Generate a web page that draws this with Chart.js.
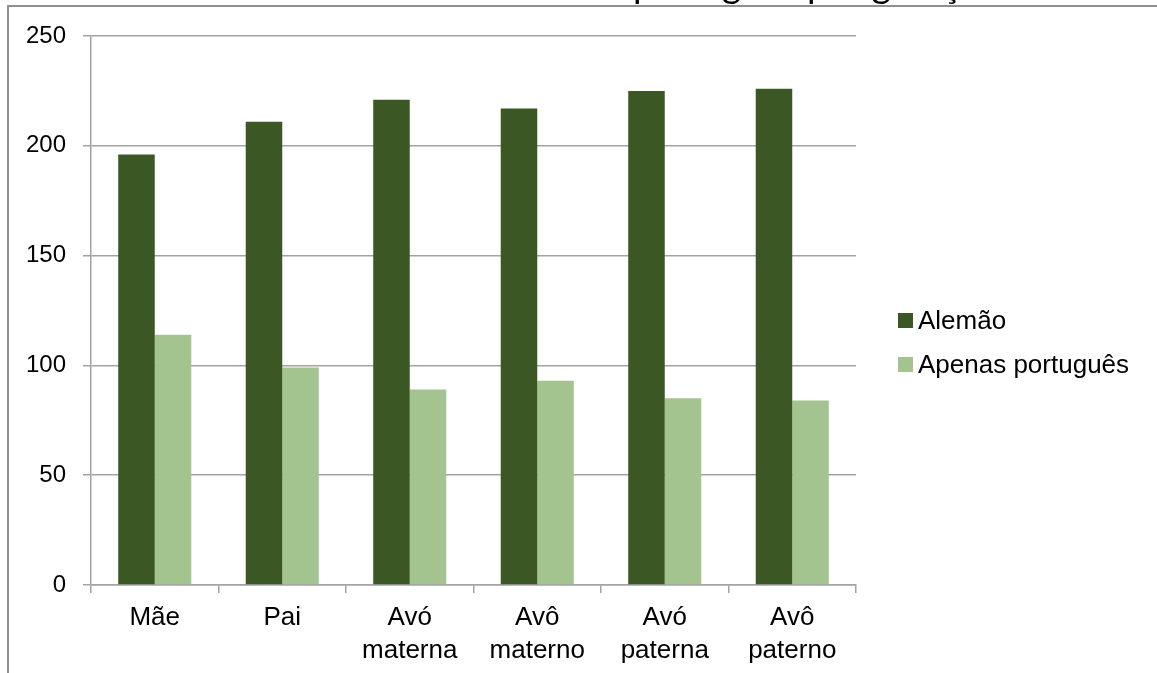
<!DOCTYPE html>
<html>
<head>
<meta charset="utf-8">
<script src="https://cdn.jsdelivr.net/npm/chart.js@4.4.1/dist/chart.umd.min.js"></script>
<style>
  html, body { margin: 0; padding: 0; background: #ffffff; }
  #wrap { width: 1157px; height: 673px; position: relative; }
</style>
</head>
<body>
<div id="wrap"><canvas id="c" width="1157" height="673"></canvas></div>
<script>
// Categories (generation / relative) and the two series
const categories = ["Mãe", "Pai", ["Avó", "materna"], ["Avô", "materno"], ["Avó", "paterna"], ["Avô", "paterno"]];
const alemao = [196, 211, 221, 217, 225, 226];
const apenasPortugues = [114, 99, 89, 93, 85, 84];
const seriesNames = ["Alemão", "Apenas português"];
const seriesColors = ["#3b5824", "#a3c48f"];
const yTicks = [0, 50, 100, 150, 200, 250];
const titleText = "Alemão e português por geração";

const GRID = "#a3a3a3";
const LABEL_FONT = "Liberation Sans, Arial, sans-serif";

// Outer frame, heading (clipped at the top edge) and the side legend
const decorations = {
  id: "decorations",
  beforeDraw(chart) {
    const ctx = chart.ctx;
    ctx.save();
    ctx.fillStyle = "#ffffff";
    ctx.fillRect(0, 0, chart.width, chart.height);
    ctx.restore();
  },
  afterDraw(chart) {
    const ctx = chart.ctx;
    ctx.save();
    // frame
    ctx.strokeStyle = "#8f8f8f";
    ctx.lineWidth = 2;
    ctx.beginPath();
    ctx.moveTo(chart.width, 6);
    ctx.lineTo(8, 6);
    ctx.lineTo(8, chart.height);
    ctx.stroke();

    // heading: sits above the frame, only its lowest strokes fall inside the canvas
    ctx.font = "37px Lato";
    ctx.fillStyle = "#000000";
    ctx.textBaseline = "alphabetic";
    ctx.textAlign = "left";
    const prefix = titleText.slice(0, titleText.indexOf("português"));
    const x0 = 633 - ctx.measureText(prefix).width;
    ctx.fillText(titleText, x0, -1.8);

    // legend
    ctx.font = "26px " + LABEL_FONT;
    ctx.textBaseline = "middle";
    chart.data.datasets.forEach((ds, i) => {
      const top = 313 + i * 44;
      ctx.fillStyle = ds.backgroundColor;
      ctx.fillRect(898, top, 15, 15);
      ctx.fillStyle = "#000000";
      ctx.fillText(ds.label, 918, top + 8.5);
    });
    ctx.restore();
  }
};

new Chart(document.getElementById("c"), {
  type: "bar",
  data: {
    labels: categories,
    datasets: [
      { label: seriesNames[0], data: alemao, backgroundColor: seriesColors[0] },
      { label: seriesNames[1], data: apenasPortugues, backgroundColor: seriesColors[1] }
    ]
  },
  options: {
    responsive: false,
    devicePixelRatio: 1,
    animation: false,
    layout: { padding: { left: 0, top: 36, right: 301, bottom: 0 } },
    datasets: { bar: { categoryPercentage: 0.573, barPercentage: 1.0, borderWidth: 0 } },
    plugins: {
      legend: { display: false },
      title: { display: false },
      tooltip: { enabled: false }
    },
    scales: {
      x: {
        grid: { display: true, drawOnChartArea: false, drawTicks: true, tickLength: 8, color: GRID, lineWidth: 1.5, offset: true },
        border: { display: true, color: GRID, width: 1.5 },
        ticks: {
          font: { family: LABEL_FONT, size: 26, lineHeight: 1.27 },
          color: "#000000",
          padding: 8,
          maxRotation: 0,
          autoSkip: false
        },
        afterFit(scale) { scale.height = 88; }
      },
      y: {
        min: yTicks[0],
        max: yTicks[yTicks.length - 1],
        afterBuildTicks(scale) { scale.ticks = yTicks.map(v => ({ value: v })); },
        grid: { color: GRID, lineWidth: 1.5, drawTicks: true, tickLength: 8 },
        border: { display: true, color: GRID, width: 1.5 },
        ticks: {
          font: { family: LABEL_FONT, size: 24 },
          color: "#000000",
          padding: 17
        },
        afterFit(scale) { scale.width = 91; }
      }
    }
  },
  plugins: [decorations]
});
</script>
</body>
</html>
